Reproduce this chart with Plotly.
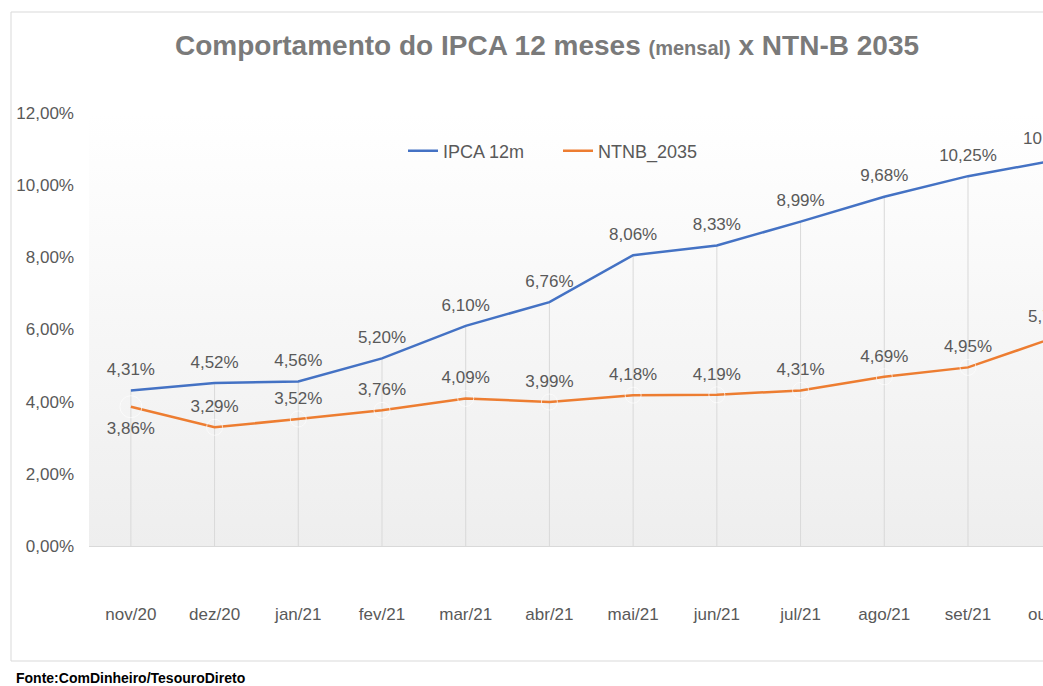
import base64
import plotly.graph_objects as go

categories = ["nov/20", "dez/20", "jan/21", "fev/21", "mar/21", "abr/21",
              "mai/21", "jun/21", "jul/21", "ago/21", "set/21", "out/21"]
ipca_12m = [4.31, 4.52, 4.56, 5.20, 6.10, 6.76, 8.06, 8.33, 8.99, 9.68, 10.25, 10.67]
ntnb_2035 = [3.86, 3.29, 3.52, 3.76, 4.09, 3.99, 4.18, 4.19, 4.31, 4.69, 4.95, 5.75]
y_ticks = [0, 2, 4, 6, 8, 10, 12]

BLUE = "#4472C4"
ORANGE = "#ED7D31"
TXT = "#595959"
FONT = "Liberation Sans, Arial, sans-serif"

W, H = 1043, 686
ML, MR, MT, MB = 89, 0, 113, 140
x_range = [-0.5, 10.896]


def fmt(v):
    return f"{v:.2f}".replace(".", ",") + "%"


idx = list(range(len(categories)))

fig = go.Figure()

# drop lines from the higher series down to the axis
dx, dy = [], []
for i, v in zip(idx, ipca_12m):
    dx += [i, i, None]
    dy += [0, v, None]
fig.add_trace(go.Scatter(x=dx, y=dy, mode="lines", line=dict(color="#d9d9d9", width=1),
                         showlegend=False, hoverinfo="skip"))

fig.add_trace(go.Scatter(x=idx, y=ipca_12m, mode="lines", name="IPCA 12m",
                         line=dict(color=BLUE, width=2.5)))
fig.add_trace(go.Scatter(x=idx, y=ntnb_2035, mode="lines", name="NTNB_2035",
                         line=dict(color=ORANGE, width=2.5)))

# data labels
fig.add_trace(go.Scatter(x=idx, y=ipca_12m, mode="markers+text",
                         text=[fmt(v) for v in ipca_12m], textposition="top center",
                         marker=dict(size=16, color="rgba(0,0,0,0)"),
                         textfont=dict(size=17, color=TXT, family=FONT),
                         cliponaxis=False, showlegend=False, hoverinfo="skip"))
fig.add_trace(go.Scatter(x=idx, y=ntnb_2035, mode="markers+text",
                         text=[fmt(v) for v in ntnb_2035],
                         textposition=["bottom center"] + ["top center"] * (len(ntnb_2035) - 1),
                         marker=dict(size=[22] + [16] * (len(ntnb_2035) - 1), color="rgba(0,0,0,0)"),
                         textfont=dict(size=17, color=TXT, family=FONT),
                         cliponaxis=False, showlegend=False, hoverinfo="skip"))

pw = W - ML - MR
ph = H - MT - MB


def px2paper_x(p):
    return (p - ML) / pw


def px2paper_y(q):
    return (H - MB - q) / ph


# gradient plot background
svg = ('<svg xmlns="http://www.w3.org/2000/svg" width="100" height="100" preserveAspectRatio="none">'
       '<defs><linearGradient id="g" x1="0" y1="0" x2="0" y2="1">'
       '<stop offset="0" stop-color="#ffffff"/><stop offset="1" stop-color="#eeeeee"/>'
       '</linearGradient></defs><rect width="100" height="100" fill="url(#g)"/></svg>')
src = "data:image/svg+xml;base64," + base64.b64encode(svg.encode()).decode()
fig.add_layout_image(dict(source=src, xref="paper", yref="paper", x=0, y=1, sizex=1, sizey=1,
                          xanchor="left", yanchor="top", sizing="stretch", layer="below"))

# chart border
fig.add_shape(type="rect", xref="paper", yref="paper",
              x0=px2paper_x(11), x1=px2paper_x(1100), y0=px2paper_y(661), y1=px2paper_y(12),
              line=dict(color="#d9d9d9", width=1), fillcolor="rgba(0,0,0,0)", layer="below")

# last category (beyond the visible axis range): tick label and data labels
last_frac = (idx[-1] - x_range[0]) / (x_range[1] - x_range[0])
fig.add_annotation(text=categories[-1], xref="paper", yref="paper", x=last_frac, y=px2paper_y(614),
                   xanchor="center", yanchor="middle", showarrow=False,
                   font=dict(size=17, color=TXT, family=FONT))
for series in (ipca_12m, ntnb_2035):
    fig.add_annotation(text=fmt(series[-1]), xref="paper", yref="y", x=last_frac, y=series[-1],
                       xanchor="center", yanchor="middle", yshift=22, showarrow=False,
                       font=dict(size=17, color=TXT, family=FONT))

# source
fig.add_annotation(text="<b>Fonte:ComDinheiro/TesouroDireto</b>", xref="paper", yref="paper",
                   x=px2paper_x(14), y=px2paper_y(678), xanchor="left", yanchor="middle",
                   showarrow=False, font=dict(size=14, color="#000000", family=FONT))

fig.update_layout(
    width=W, height=H,
    margin=dict(l=ML, r=MR, t=MT, b=MB, pad=0),
    paper_bgcolor="white", plot_bgcolor="rgba(0,0,0,0)",
    font=dict(family=FONT, color=TXT, size=17),
    title=dict(
        text="<b>Comportamento do IPCA 12 meses <span style='font-size:20px'>(mensal)</span> x NTN-B 2035</b>",
        x=547 / W, xref="container", xanchor="center",
        y=1 - 45 / H, yref="container", yanchor="middle",
        font=dict(size=28, color="#7a7a7a", family=FONT)),
    legend=dict(orientation="h", x=px2paper_x(403), y=px2paper_y(151), xanchor="left", yanchor="middle",
                bgcolor="rgba(0,0,0,0)", font=dict(size=18, color=TXT, family=FONT),
                entrywidth=110, entrywidthmode="pixels"),
    xaxis=dict(range=x_range, tickvals=idx[:-1], ticktext=categories[:-1], showgrid=False,
               zeroline=False, showline=False, ticks="", ticklabelstandoff=56,
               tickfont=dict(size=17, color=TXT, family=FONT)),
    yaxis=dict(range=[0, 12], tickvals=y_ticks, ticktext=[fmt(v) for v in y_ticks],
               showgrid=False, zeroline=True, zerolinecolor="#d9d9d9", zerolinewidth=1,
               showline=False, ticks="", ticklabelstandoff=14,
               tickfont=dict(size=17, color=TXT, family=FONT)),
)

fig.write_html("out.html", config={"displayModeBar": False},
               post_script="document.body.style.margin='0';document.body.style.overflow='hidden';")
